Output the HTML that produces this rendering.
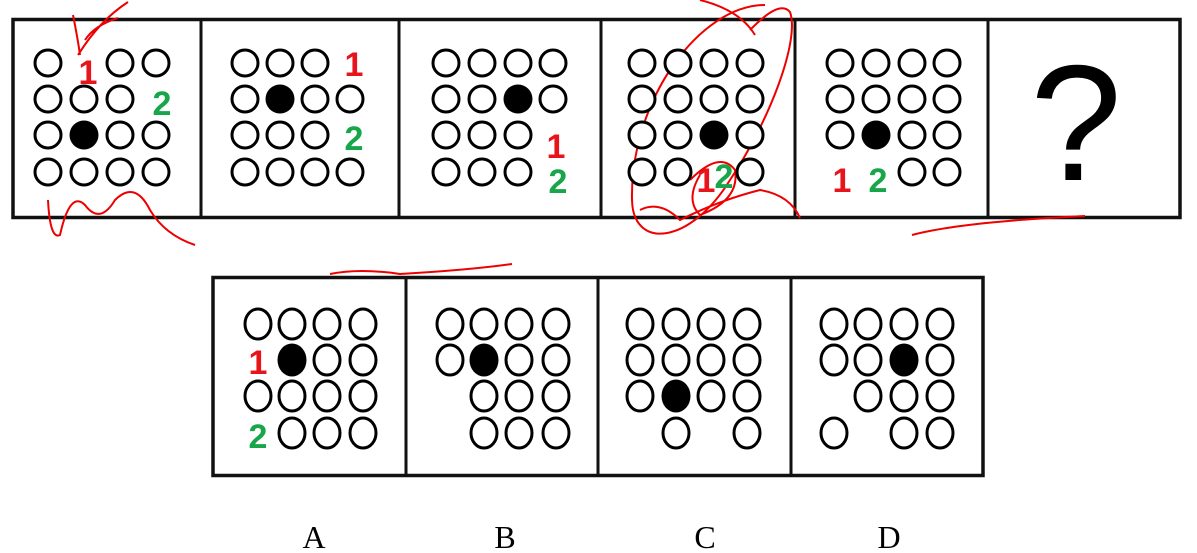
<!DOCTYPE html>
<html><head><meta charset="utf-8"><style>
html,body{margin:0;padding:0;background:#fff;width:1197px;height:553px;overflow:hidden}
svg{display:block}
.lbl{font-family:"Liberation Sans",sans-serif;font-weight:bold;font-size:34px}
.opt{font-family:"Liberation Serif",serif;font-size:32px}
</style></head><body>
<svg id="s" width="1197" height="553" viewBox="0 0 1197 553">
<g>
<rect x="13" y="19.5" width="1167" height="198" fill="none" stroke="#111" stroke-width="3.5"/>
<line x1="201" y1="19" x2="201" y2="218" stroke="#111" stroke-width="3"/>
<line x1="399" y1="19" x2="399" y2="218" stroke="#111" stroke-width="3"/>
<line x1="601" y1="19" x2="601" y2="218" stroke="#111" stroke-width="3"/>
<line x1="795" y1="19" x2="795" y2="218" stroke="#111" stroke-width="3"/>
<line x1="988" y1="19" x2="988" y2="218" stroke="#111" stroke-width="3"/>
</g>
<text x="1076" y="180" text-anchor="middle" font-family="Liberation Sans,sans-serif" font-size="165">?</text>
<g>
<rect x="213" y="277.5" width="770" height="198" fill="none" stroke="#111" stroke-width="3.5"/>
<line x1="406" y1="277" x2="406" y2="476" stroke="#111" stroke-width="3"/>
<line x1="598" y1="277" x2="598" y2="476" stroke="#111" stroke-width="3"/>
<line x1="791" y1="277" x2="791" y2="476" stroke="#111" stroke-width="3"/>
</g>
<text class="opt" x="314" y="548" text-anchor="middle">A</text>
<text class="opt" x="505" y="548" text-anchor="middle">B</text>
<text class="opt" x="705" y="548" text-anchor="middle">C</text>
<text class="opt" x="889" y="548" text-anchor="middle">D</text>
<g fill="none" stroke="#e00" stroke-width="2">
<path d="M128 2 Q100 20 78 55 M118 18 Q95 25 85 40 M80 55 Q78 40 73 15"/>
<path d="M48 200 Q50 240 60 235 Q70 190 85 205 Q100 225 115 200 Q135 180 150 210 Q165 235 195 245"/>
<path d="M765 5 C700 5 630 100 632 200 C633 250 690 245 730 180 C770 120 800 40 790 12 C780 0 760 20 750 30"/>
<path d="M700 0 Q740 10 755 35 M690 180 Q720 150 735 170 Q740 200 700 215 Q685 200 700 175 M640 210 Q660 200 680 220 Q720 200 760 190 Q790 195 800 218"/>
<path d="M912 235 Q960 222 1085 216"/>
<path d="M330 274 Q360 268 400 274 Q470 270 512 264"/>
</g>
</svg>
<script>
const svgNS="http://www.w3.org/2000/svg";
const s=document.getElementById('s');
const topCols=[[48,84,120,156],[245,280,315,350],[446,482,518,553],[642,678,714,750],[840,876,912,947]];
const topRows=[63,99,135,172];
const topFilled=[[2,1],[1,1],[1,2],[2,2],[2,1]];
const topMissing=[[[0,1],[1,3]],[[0,3],[2,3]],[[2,3],[3,3]],[[3,2]],[[3,0],[3,1]]];
const optCols=[[258,292,327,363],[450,484,519,556],[640,676,711,747],[834,868,904,940]];
const optRows=[324,360,396,433];
const optFilled=[[1,1],[1,1],[2,1],[1,2]];
const optMissing=[[[1,0],[3,0]],[[2,0],[3,0]],[[3,0],[3,2]],[[2,0],[3,1]]];
function draw(cols,rows,filled,missing,rx,ry,name){
  for(let r=0;r<4;r++)for(let c=0;c<4;c++){
    if(missing.some(m=>m[0]==r&&m[1]==c))continue;
    const f=filled[0]==r&&filled[1]==c;
    const e=document.createElementNS(svgNS,'ellipse');
    e.setAttribute('cx',cols[c]);e.setAttribute('cy',rows[r]);
    e.setAttribute('rx',f?rx+1.5:rx);e.setAttribute('ry',f?ry+1.5:ry);
    e.setAttribute('fill',f?'#000':'#fff');e.setAttribute('stroke','#000');e.setAttribute('stroke-width',f?0:3);
    
    
    s.appendChild(e);
  }
}
function lbl(x,y,t,col,name){
  const e=document.createElementNS(svgNS,'text');
  e.setAttribute('x',x);e.setAttribute('y',y);e.setAttribute('class','lbl');e.setAttribute('fill',col);
  e.setAttribute('text-anchor','middle');e.textContent=t;
  
  
  s.appendChild(e);
}
topCols.forEach((c,i)=>draw(c,topRows,topFilled[i],topMissing[i],13,13,'panel-'+(i+1)));
optCols.forEach((c,i)=>draw(c,optRows,optFilled[i],optMissing[i],13,15,'option-'+'abcd'[i]));
lbl(88,84,'1','#e8141c','marker-1');lbl(162,115,'2','#19a64a','marker-2');
lbl(354,76,'1','#e8141c','marker-1');lbl(354,150,'2','#19a64a','marker-2');
lbl(556,158,'1','#e8141c','marker-1');lbl(558,193,'2','#19a64a','marker-2');
lbl(706,192,'1','#e8141c','marker-1');lbl(724,188,'2','#19a64a','marker-2');
lbl(842,192,'1','#e8141c','marker-1');lbl(878,192,'2','#19a64a','marker-2');
lbl(258,374,'1','#e8141c','marker-1');lbl(258,448,'2','#19a64a','marker-2');
</script>
</body></html>
